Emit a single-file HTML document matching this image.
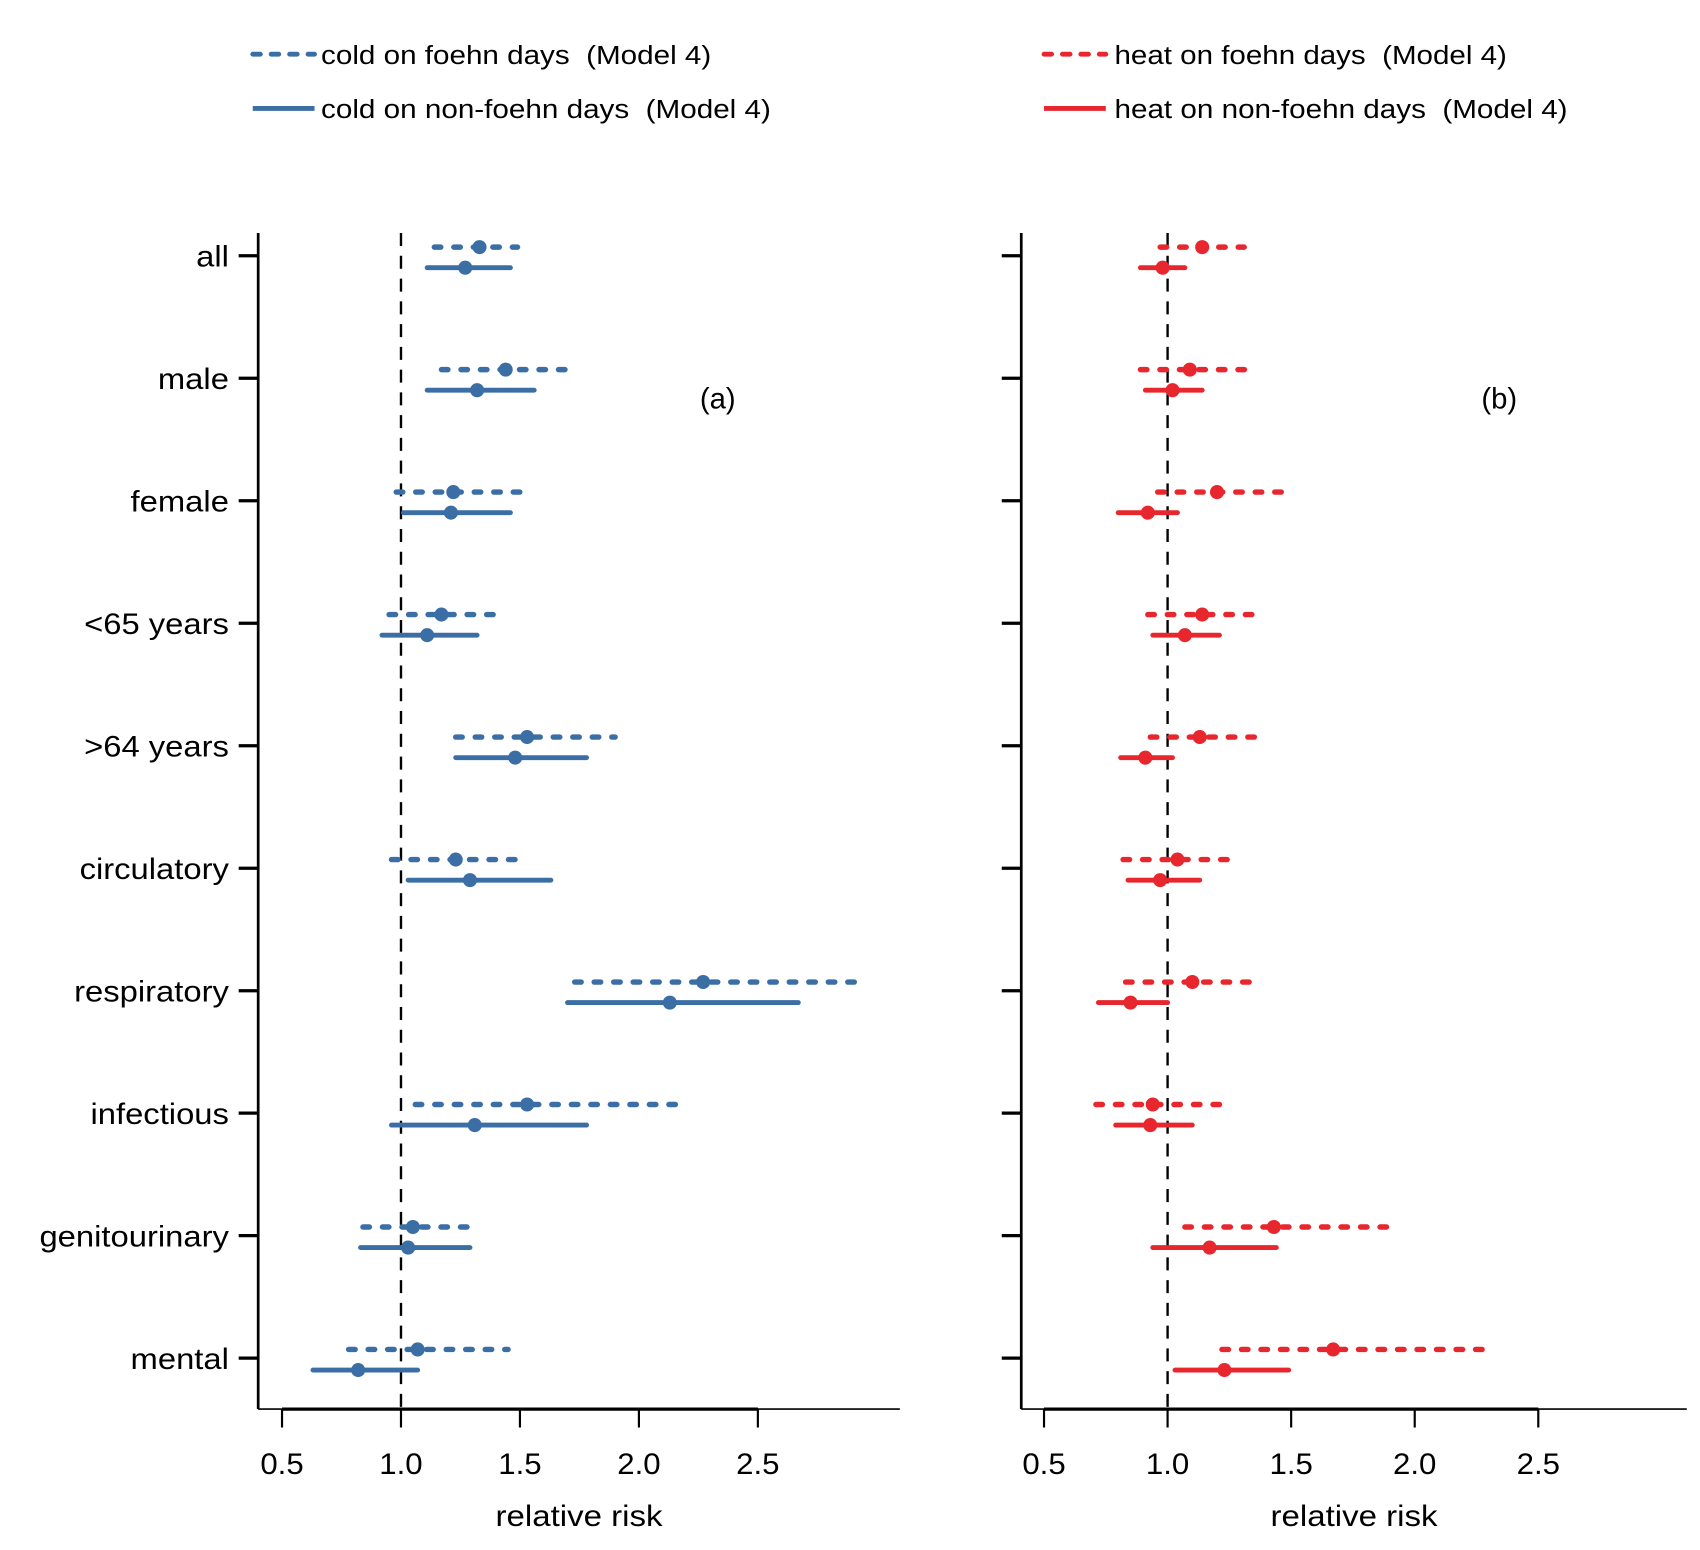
<!DOCTYPE html>
<html><head><meta charset="utf-8"><style>
html,body{margin:0;padding:0;background:#fff}
svg{display:block;font-family:"Liberation Sans",Arial,sans-serif}
</style></head><body>
<svg id="chart" width="1700" height="1550" viewBox="0 0 1568 1430" xmlns="http://www.w3.org/2000/svg">
<g id="legend">
  <g><line x1="233" y1="50" x2="290" y2="50" stroke="#3a6ea5" stroke-width="4.5" stroke-dasharray="7 10" stroke-linecap="round"/><text x="296" y="59" font-size="24" textLength="360" lengthAdjust="spacingAndGlyphs">cold on foehn days&#160;&#160;(Model 4)</text></g>
  <g><line x1="233" y1="100" x2="290" y2="100" stroke="#3a6ea5" stroke-width="4.5"/><text x="296" y="109" font-size="24" textLength="415" lengthAdjust="spacingAndGlyphs">cold on non-foehn days&#160;&#160;(Model 4)</text></g>
  <g><line x1="963" y1="50" x2="1020" y2="50" stroke="#e8262e" stroke-width="4.5" stroke-dasharray="7 10" stroke-linecap="round"/><text x="1028" y="59" font-size="24" textLength="362" lengthAdjust="spacingAndGlyphs">heat on foehn days&#160;&#160;(Model 4)</text></g>
  <g><line x1="963" y1="100" x2="1020" y2="100" stroke="#e8262e" stroke-width="4.5"/><text x="1028" y="109" font-size="24" textLength="418" lengthAdjust="spacingAndGlyphs">heat on non-foehn days&#160;&#160;(Model 4)</text></g>
</g>
</svg>
<script>
const categories = ["all","male","female","<65 years",">64 years","circulatory","respiratory","infectious","genitourinary","mental"];
const xTicks = [0.5,1.0,1.5,2.0,2.5];
const xTickLabels = ["0.5","1.0","1.5","2.0","2.5"];
// cold panel (a)
const coldFoehnEst = [1.33,1.44,1.22,1.17,1.53,1.23,2.27,1.53,1.05,1.07];
const coldFoehnLo  = [1.14,1.17,0.98,0.95,1.23,0.96,1.73,1.06,0.84,0.78];
const coldFoehnHi  = [1.49,1.74,1.52,1.41,1.90,1.53,2.93,2.16,1.30,1.45];
const coldNonEst = [1.27,1.32,1.21,1.11,1.48,1.29,2.13,1.31,1.03,0.82];
const coldNonLo  = [1.11,1.11,1.01,0.92,1.23,1.03,1.70,0.96,0.83,0.63];
const coldNonHi  = [1.46,1.56,1.46,1.32,1.78,1.63,2.67,1.78,1.29,1.07];
// heat panel (b)
const heatFoehnEst = [1.14,1.09,1.20,1.14,1.13,1.04,1.10,0.94,1.43,1.67];
const heatFoehnLo  = [0.97,0.89,0.96,0.92,0.93,0.82,0.83,0.71,1.07,1.22];
const heatFoehnHi  = [1.31,1.34,1.50,1.36,1.37,1.26,1.38,1.25,1.92,2.28];
const heatNonEst = [0.98,1.02,0.92,1.07,0.91,0.97,0.85,0.93,1.17,1.23];
const heatNonLo  = [0.89,0.91,0.80,0.94,0.81,0.84,0.72,0.79,0.94,1.03];
const heatNonHi  = [1.07,1.14,1.04,1.21,1.02,1.13,1.00,1.10,1.44,1.49];

const NS="http://www.w3.org/2000/svg";
const svg=document.getElementById('chart');
function el(tag,attrs,parent){const e=document.createElementNS(NS,tag);for(const k in attrs)e.setAttribute(k,attrs[k]);(parent||svg).appendChild(e);return e;}
const yPos=i=>236+i*113.0;

function panel(opt){
  const g=el('g',{});
  
  
  const x=v=>opt.x0+(v-0.5)*opt.k;
  const yAxis=el('line',{x1:opt.left,y1:215,x2:opt.left,y2:1300,stroke:'#000','stroke-width':2.5},g);
  
  
  const xAxis=el('line',{x1:opt.left,y1:1300,x2:opt.right,y2:1300,stroke:'#000','stroke-width':1.5},g);
  
  
  el('line',{x1:x(xTicks[0]),y1:1300,x2:x(xTicks[xTicks.length-1]),y2:1300,stroke:'#000','stroke-width':3},g);
  xTicks.forEach((t,i)=>{
    el('line',{x1:x(t),y1:1300,x2:x(t),y2:1317,stroke:'#000','stroke-width':2},g);
    const tl=el('text',{x:x(t),y:1360,'font-size':27,'text-anchor':'middle',textLength:40,lengthAdjust:'spacingAndGlyphs'},g);
    tl.textContent=xTickLabels[i];
    
    
  });
  const xt=el('text',{x:(opt.left+opt.right)/2,y:1408,'font-size':27,'text-anchor':'middle',textLength:154,lengthAdjust:'spacingAndGlyphs'},g);
  xt.textContent='relative risk';
  
  
  const ref=el('line',{x1:x(1),y1:215,x2:x(1),y2:1300,stroke:'#000','stroke-width':2.2,'stroke-dasharray':'12 9'},g);
  
  
  categories.forEach((c,i)=>{
    el('line',{x1:opt.left-18,y1:yPos(i),x2:opt.left,y2:yPos(i),stroke:'#000','stroke-width':3},g);
    if(opt.labels){
      const lb=el('text',{x:0,y:0,'font-size':27,'text-anchor':'end',transform:'translate('+(opt.left-27)+','+(yPos(i)+10)+') scale(1.12,1)'},g);
      lb.textContent=c;
      
      
    }
    const y1=yPos(i)-8, y2=yPos(i)+11;
    const d=el('line',{x1:x(opt.fLo[i]),y1:y1,x2:x(opt.fHi[i]),y2:y1,stroke:opt.color,'stroke-width':5,'stroke-dasharray':'6 12','stroke-linecap':'round'},g);
    
    
    const dp=el('circle',{cx:x(opt.fEst[i]),cy:y1,r:6.5,fill:opt.color},g);
    
    
    const s=el('line',{x1:x(opt.nLo[i]),y1:y2,x2:x(opt.nHi[i]),y2:y2,stroke:opt.color,'stroke-width':4.5,'stroke-linecap':'round'},g);
    
    
    const sp=el('circle',{cx:x(opt.nEst[i]),cy:y2,r:6.5,fill:opt.color},g);
    
    
  });
  const pl=el('text',{x:opt.tagX,y:377,'font-size':27,'text-anchor':'middle'},g);
  pl.textContent=opt.tag;
  
  
}
panel({name:'panel-a-cold',id:'cold',left:238,right:830,x0:260,k:219.5,color:'#3a6ea5',labels:true,tag:'(a)',tagX:662,
  fEst:coldFoehnEst,fLo:coldFoehnLo,fHi:coldFoehnHi,nEst:coldNonEst,nLo:coldNonLo,nHi:coldNonHi});
panel({name:'panel-b-heat',id:'heat',left:942,right:1556,x0:963,k:228,color:'#e8262e',labels:false,tag:'(b)',tagX:1383,
  fEst:heatFoehnEst,fLo:heatFoehnLo,fHi:heatFoehnHi,nEst:heatNonEst,nLo:heatNonLo,nHi:heatNonHi});
</script>
</body></html>
